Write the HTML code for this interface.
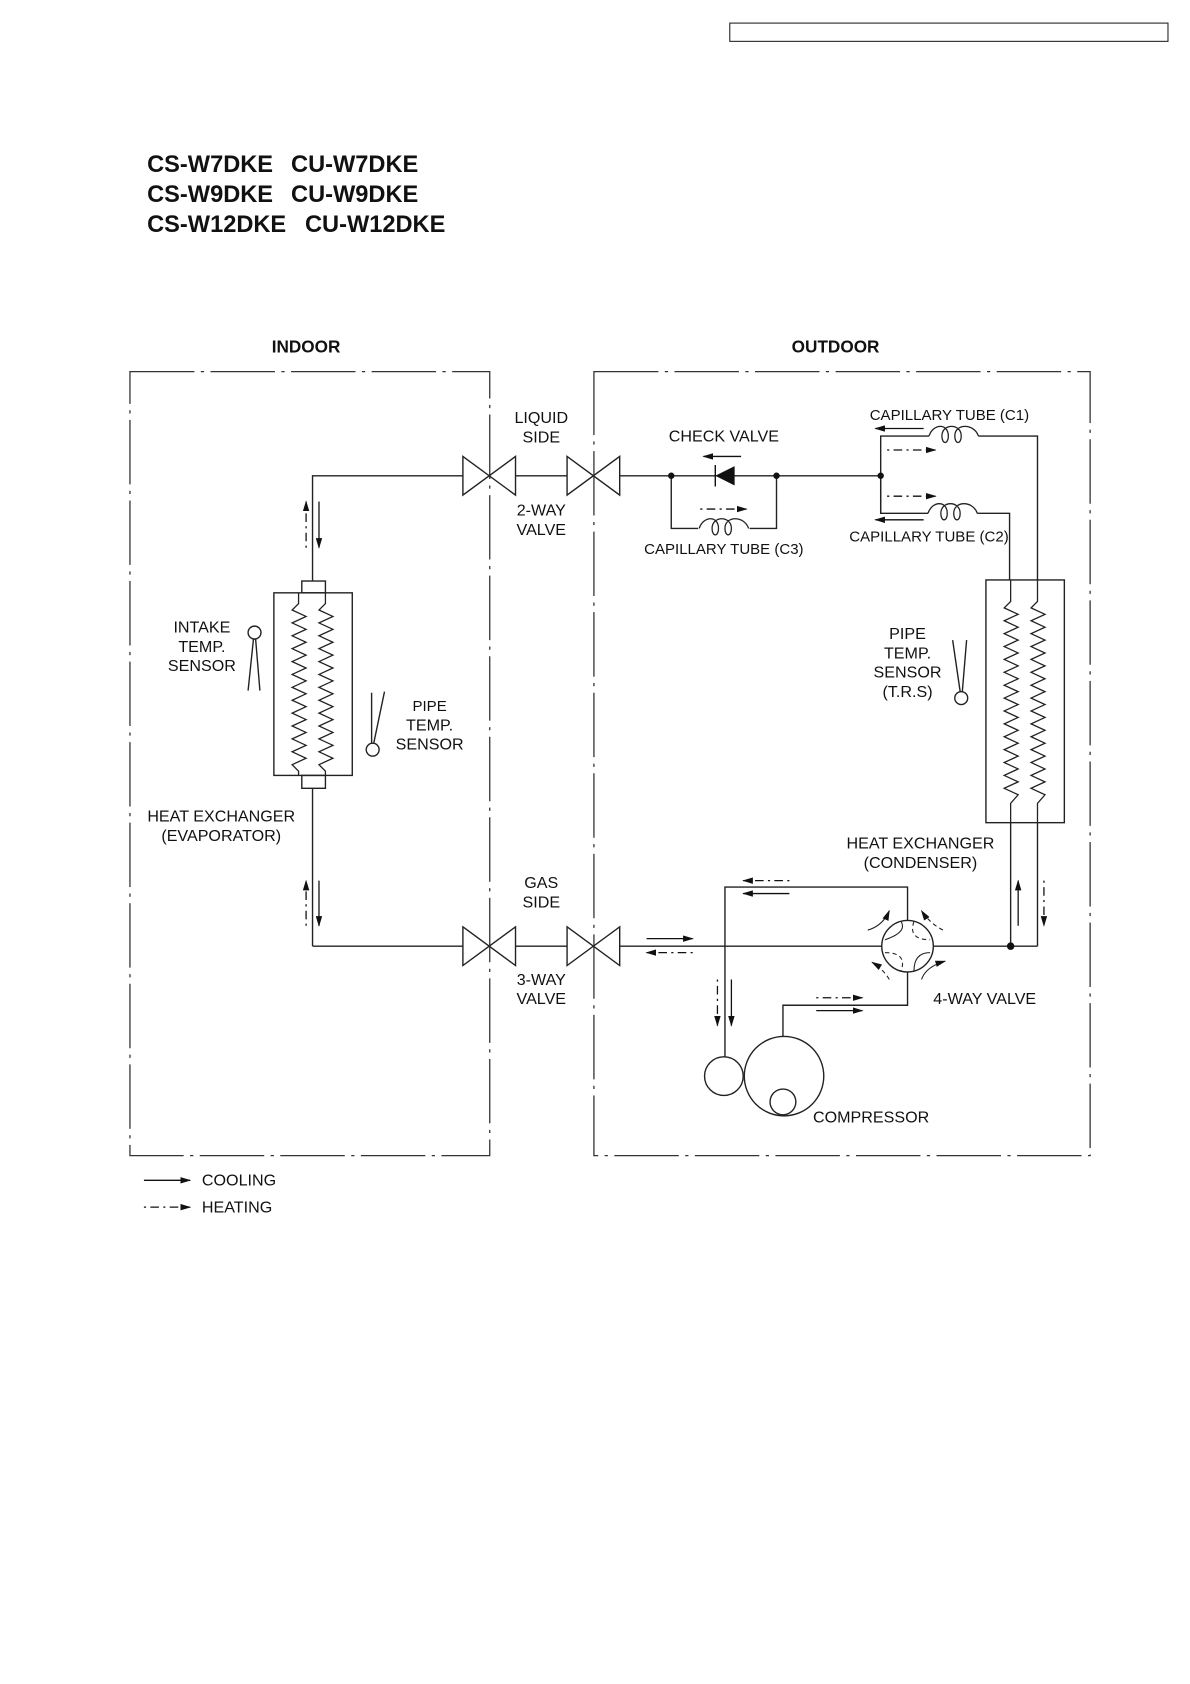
<!DOCTYPE html>
<html><head><meta charset="utf-8"><style>
html,body{margin:0;padding:0;background:#fff;}
svg{display:block;}
text{font-family:"Liberation Sans",Arial,sans-serif;fill:#111;}
</style></head><body>
<svg width="1190" height="1684" viewBox="0 0 1108 1568" preserveAspectRatio="none" xmlns="http://www.w3.org/2000/svg">
<defs>
<polyline id="zz1" fill="none" stroke="#222" stroke-width="1.2" points="0,552 0,562 -6,568 7,574 -6,580 7,586 -6,592 7,598 -6,604 7,610 -6,616 7,622 -6,628 7,634 -6,640 7,646 -6,652 7,658 -6,664 7,670 -6,676 7,682 -6,688 7,694 -6,700 7,706 -6,712 0,718 0,722"/>
<polyline id="zz2" fill="none" stroke="#222" stroke-width="1.2" points="0,540 0,560 -6,566 7,572 -6,578 7,584 -6,590 7,596 -6,602 7,608 -6,614 7,620 -6,626 7,632 -6,638 7,644 -6,650 7,656 -6,662 7,668 -6,674 7,680 -6,686 7,692 -6,698 7,704 -6,710 7,716 -6,722 7,728 -6,734 7,740 0,748 0,766"/>
<path id="coil" fill="none" stroke="#222" stroke-width="1.2" d="M0,0 C4,-12 18,-12 18,0 C18,8 12,8 12,0 C12,-12 30,-12 30,0 C30,8 24,8 24,0 C24,-12 42,-12 46,0"/>
<g id="bow"><polygon points="0,-18 49,18 49,-18 0,18" fill="none" stroke="#222" stroke-width="1.3"/></g>
<marker id="ah" markerWidth="10" markerHeight="6" refX="9" refY="3" orient="auto" markerUnits="userSpaceOnUse"><path d="M0,0 L10,3 L0,6z" fill="#111"/></marker>
</defs>

<rect x="679.5" y="21.5" width="408" height="17" fill="none" stroke="#222" stroke-width="1"/>

<g font-weight="bold" font-size="22">
<text x="137" y="160">CS-W7DKE</text><text x="271" y="160">CU-W7DKE</text>
<text x="137" y="188">CS-W9DKE</text><text x="271" y="188">CU-W9DKE</text>
<text x="137" y="216">CS-W12DKE</text><text x="284" y="216">CU-W12DKE</text>
</g>
<g font-weight="bold" font-size="16" text-anchor="middle">
<text x="285" y="328">INDOOR</text>
<text x="778" y="328">OUTDOOR</text>
</g>

<g fill="none" stroke="#333" stroke-width="1.2" stroke-dasharray="60,6,3,6">
<rect x="121" y="346" width="335" height="730"/>
<rect x="553" y="346" width="462" height="730"/>
</g>

<g fill="none" stroke="#222" stroke-width="1.3">
<polyline points="291,541 291,443 431,443"/>
<line x1="480" y1="443" x2="528" y2="443"/>
<line x1="577" y1="443" x2="820" y2="443"/>
<polyline points="625,443 625,492 650,492"/>
<polyline points="698,492 723,492 723,443"/>
<polyline points="820,478 820,406 865,406"/>
<polyline points="911,406 966,406 966,540"/>
<polyline points="820,443 820,478 864,478"/>
<polyline points="910,478 940,478 940,540"/>
<rect x="255" y="552" width="73" height="170"/>
<rect x="281" y="541" width="22" height="11"/>
<rect x="281" y="722" width="22" height="12"/>
<line x1="291" y1="734" x2="291" y2="881"/>
<polyline points="291,881 431,881"/>
<line x1="480" y1="881" x2="528" y2="881"/>
<line x1="577" y1="881" x2="821" y2="881"/>
<line x1="869" y1="881" x2="966" y2="881"/>
<line x1="941" y1="881" x2="941" y2="766"/>
<line x1="966" y1="881" x2="966" y2="766"/>
<rect x="918" y="540" width="73" height="226"/>
<circle cx="845" cy="881" r="24"/>
<polyline points="845,857 845,826 675,826 675,984"/>
<polyline points="845,905 845,936 729,936 729,965"/>
<circle cx="674" cy="1002" r="18"/>
<circle cx="730" cy="1002" r="37"/>
<circle cx="729" cy="1026" r="12"/>
<circle cx="237" cy="589" r="6"/>
<polyline points="231,643 236,595 238,595 242,643"/>
<circle cx="347" cy="698" r="6"/>
<polyline points="346,692 346,645"/><line x1="348" y1="692" x2="358" y2="644"/>
<circle cx="895" cy="650" r="6"/>
<line x1="894" y1="644" x2="887" y2="596"/><line x1="896" y1="644" x2="900" y2="596"/>
</g>
<g fill="none" stroke="#222" stroke-width="1">
<path d="M824,875 Q845,868 839,858"/>
<path d="M851,858 Q845,875 866,875" stroke-dasharray="4,3"/>
<path d="M824,887 Q845,887 839,904" stroke-dasharray="4,3"/>
<path d="M851,904 Q851,887 866,887"/>
<path d="M808,866 Q822,862 828,848" marker-end="url(#ah)"/>
<path d="M878,866 Q866,860 858,848" stroke-dasharray="4,3" marker-end="url(#ah)"/>
<path d="M828,912 Q822,902 812,896" stroke-dasharray="4,3" marker-end="url(#ah)"/>
<path d="M858,912 Q862,900 880,895" marker-end="url(#ah)"/>
</g>

<use href="#zz1" x="278"/><use href="#zz1" x="303"/>
<use href="#zz2" x="941"/><use href="#zz2" x="966"/>

<use href="#bow" x="431" y="443"/><use href="#bow" x="528" y="443"/>
<use href="#bow" x="431" y="881"/><use href="#bow" x="528" y="881"/>

<use href="#coil" x="865" y="406"/>
<use href="#coil" x="864" y="478"/>
<use href="#coil" x="651" y="492"/>

<g fill="#111">
<circle cx="625" cy="443" r="3"/><circle cx="723" cy="443" r="3"/><circle cx="820" cy="443" r="3"/><circle cx="941" cy="881" r="3.5"/>
<polygon points="666,443 684,434 684,452"/>
</g>
<line x1="666" y1="433" x2="666" y2="453" stroke="#111" stroke-width="1.3"/>

<g stroke="#111" stroke-width="1.2" fill="none">
<line x1="690" y1="425" x2="655" y2="425" marker-end="url(#ah)"/>
<line x1="652" y1="474" x2="695" y2="474" stroke-dasharray="2,4,8,4" marker-end="url(#ah)"/>
<line x1="860" y1="399" x2="815" y2="399" marker-end="url(#ah)"/>
<line x1="826" y1="419" x2="871" y2="419" stroke-dasharray="2,4,8,4" marker-end="url(#ah)"/>
<line x1="826" y1="462" x2="871" y2="462" stroke-dasharray="2,4,8,4" marker-end="url(#ah)"/>
<line x1="860" y1="484" x2="815" y2="484" marker-end="url(#ah)"/>
<line x1="285" y1="510" x2="285" y2="467" stroke-dasharray="2,4,8,4" marker-end="url(#ah)"/>
<line x1="297" y1="467" x2="297" y2="510" marker-end="url(#ah)"/>
<line x1="285" y1="862" x2="285" y2="820" stroke-dasharray="2,4,8,4" marker-end="url(#ah)"/>
<line x1="297" y1="820" x2="297" y2="862" marker-end="url(#ah)"/>
<line x1="602" y1="874" x2="645" y2="874" marker-end="url(#ah)"/>
<line x1="645" y1="887" x2="602" y2="887" stroke-dasharray="2,4,8,4" marker-end="url(#ah)"/>
<line x1="735" y1="820" x2="692" y2="820" stroke-dasharray="2,4,8,4" marker-end="url(#ah)"/>
<line x1="735" y1="832" x2="692" y2="832" marker-end="url(#ah)"/>
<line x1="668" y1="912" x2="668" y2="955" stroke-dasharray="2,4,8,4" marker-end="url(#ah)"/>
<line x1="681" y1="912" x2="681" y2="955" marker-end="url(#ah)"/>
<line x1="760" y1="929" x2="803" y2="929" stroke-dasharray="2,4,8,4" marker-end="url(#ah)"/>
<line x1="760" y1="941" x2="803" y2="941" marker-end="url(#ah)"/>
<line x1="948" y1="862" x2="948" y2="820" marker-end="url(#ah)"/>
<line x1="972" y1="820" x2="972" y2="862" stroke-dasharray="2,4,8,4" marker-end="url(#ah)"/>
<line x1="134" y1="1099" x2="177" y2="1099" marker-end="url(#ah)"/>
<line x1="134" y1="1124" x2="177" y2="1124" stroke-dasharray="2,4,8,4" marker-end="url(#ah)"/>
</g>

<g font-size="15" text-anchor="middle">
<text x="504" y="394">LIQUID</text><text x="504" y="412">SIDE</text>
<text x="504" y="480">2-WAY</text><text x="504" y="498">VALVE</text>
<text x="504" y="827">GAS</text><text x="504" y="845">SIDE</text>
<text x="504" y="917">3-WAY</text><text x="504" y="935">VALVE</text>
<text x="674" y="411">CHECK VALVE</text>
<text x="188" y="589">INTAKE</text><text x="188" y="607">TEMP.</text><text x="188" y="625">SENSOR</text>
<text x="400" y="662" font-size="14">PIPE</text><text x="400" y="680">TEMP.</text><text x="400" y="698">SENSOR</text>
<text x="845" y="595">PIPE</text><text x="845" y="613">TEMP.</text><text x="845" y="631">SENSOR</text><text x="845" y="649">(T.R.S)</text>
<text x="206" y="765">HEAT EXCHANGER</text><text x="206" y="783">(EVAPORATOR)</text>
<text x="857" y="790">HEAT EXCHANGER</text><text x="857" y="808">(CONDENSER)</text>
</g>
<g font-size="14" text-anchor="middle">
<text x="884" y="391">CAPILLARY TUBE (C1)</text>
<text x="865" y="504">CAPILLARY TUBE (C2)</text>
<text x="674" y="516">CAPILLARY TUBE (C3)</text>
</g>
<g font-size="15">
<text x="869" y="935">4-WAY VALVE</text>
<text x="757" y="1045">COMPRESSOR</text>
<text x="188" y="1104">COOLING</text>
<text x="188" y="1129">HEATING</text>
</g>
</svg>
</body></html>
